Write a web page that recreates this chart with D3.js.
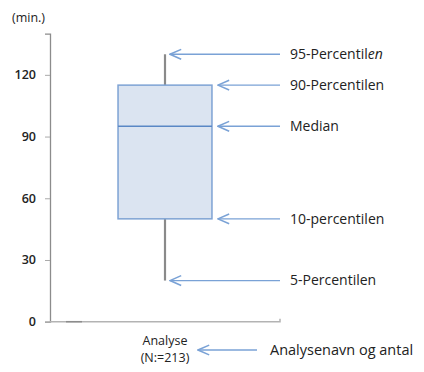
<!DOCTYPE html>
<html>
<head>
<meta charset="utf-8">
<script src="https://cdn.jsdelivr.net/npm/d3@7"></script>
<style>
  body { margin: 0; background: #fff; }
  text { font-family: "Open Sans", "Noto Sans", sans-serif; }
</style>
</head>
<body>
<div id="chart"></div>
<script>
// Data
const categories = ["Analyse"];
const categoryN = ["(N:=213)"];
const p5 = [20];
const p10 = [50];
const median = [95];
const p90 = [115];
const p95 = [130];
const yTicks = [0, 30, 60, 90, 120];

const annotLabels = ["95-Percentil", "90-Percentilen", "Median", "10-percentilen", "5-Percentilen"];
const annotValues = [p95[0], p90[0], median[0], p10[0], p5[0]];
const annotOnBox = [false, true, true, true, false];

const width = 424;
const height = 372;
const margin = { top: 35, right: 144, bottom: 50, left: 50 };

const svg = d3.select("#chart")
    .append("svg")
    .attr("width", width)
    .attr("height", height);

// open arrow head
const defs = svg.append("defs");
defs.append("marker")
    .attr("id", "head")
    .attr("viewBox", "0 0 10 10")
    .attr("refX", 9)
    .attr("refY", 5)
    .attr("markerWidth", 14)
    .attr("markerHeight", 14)
    .attr("markerUnits", "userSpaceOnUse")
    .attr("orient", "auto")
    .append("path")
    .attr("d", "M1,1.5 L9,5 L1,8.5")
    .attr("fill", "none")
    .attr("stroke", "#7aa2d6")
    .attr("stroke-width", 1.1);

const y = d3.scaleLinear()
    .domain([0, 140])
    .range([321.7, 33.7]);

const x = d3.scaleBand()
    .domain(categories)
    .range([margin.left, 280])
    .paddingInner(0.42)
    .paddingOuter(0.42);

// Y axis
const yAxis = d3.axisLeft(y)
    .tickValues(yTicks)
    .tickSize(5)
    .tickPadding(9);

const gy = svg.append("g")
    .attr("transform", `translate(${margin.left},0)`)
    .call(yAxis);
gy.select(".domain").attr("stroke", "#8c8c8c").attr("stroke-width", 1.3);
gy.selectAll(".tick line").attr("stroke", "#aaa");
gy.selectAll(".tick text")
    .attr("fill", "#222")
    .style("font-size", "12.5px")
    .style("font-weight", "600");

// baseline
svg.append("path")
    .attr("d", `M${margin.left},${y(0)} H280 V${y(0) - 3}`)
    .attr("fill", "none")
    .attr("stroke", "#b3b3b3")
    .attr("stroke-width", 1.5);
svg.append("line")
    .attr("x1", 66).attr("x2", 82)
    .attr("y1", y(0)).attr("y2", y(0))
    .attr("stroke", "#8c8c8c")
    .attr("stroke-width", 1.5);

// unit label
svg.append("text")
    .attr("x", 12)
    .attr("y", 22)
    .attr("fill", "#222")
    .style("font-size", "12.5px")
    .text("(min.)");

// Box plot
const boxes = svg.selectAll(".box")
    .data(categories)
    .enter()
    .append("g")
    .attr("class", "box");

boxes.append("line")
    .attr("x1", (d) => x(d) + x.bandwidth() / 2)
    .attr("x2", (d) => x(d) + x.bandwidth() / 2)
    .attr("y1", (d, i) => y(p95[i]))
    .attr("y2", (d, i) => y(p5[i]))
    .attr("stroke", "#8a8a8a")
    .attr("stroke-width", 2.2);

boxes.append("rect")
    .attr("x", (d) => x(d))
    .attr("width", x.bandwidth())
    .attr("y", (d, i) => y(p90[i]))
    .attr("height", (d, i) => y(p10[i]) - y(p90[i]))
    .attr("fill", "#dbe4f1")
    .attr("stroke", "#7ea3d4")
    .attr("stroke-width", 1.5);

boxes.append("line")
    .attr("x1", (d) => x(d))
    .attr("x2", (d) => x(d) + x.bandwidth())
    .attr("y1", (d, i) => y(median[i]))
    .attr("y2", (d, i) => y(median[i]))
    .attr("stroke", "#5a87c5")
    .attr("stroke-width", 1.5);

// category label
const catLabel = svg.selectAll(".cat")
    .data(categories)
    .enter()
    .append("text")
    .attr("class", "cat")
    .attr("text-anchor", "middle")
    .attr("fill", "#222")
    .style("font-size", "12.5px");
catLabel.append("tspan")
    .attr("x", (d) => x(d) + x.bandwidth() / 2)
    .attr("y", 345)
    .text((d) => d);
catLabel.append("tspan")
    .attr("x", (d) => x(d) + x.bandwidth() / 2)
    .attr("y", 362)
    .text((d, i) => categoryN[i]);

// Annotations
const cx = x(categories[0]) + x.bandwidth() / 2;
const boxRight = x(categories[0]) + x.bandwidth();

const annot = svg.selectAll(".annot")
    .data(annotLabels)
    .enter()
    .append("g")
    .attr("class", "annot");

annot.append("line")
    .attr("x1", 280)
    .attr("x2", (d, i) => annotOnBox[i] ? boxRight + 6 : cx + 5)
    .attr("y1", (d, i) => y(annotValues[i]))
    .attr("y2", (d, i) => y(annotValues[i]))
    .attr("stroke", "#7aa2d6")
    .attr("stroke-width", 1.3)
    .attr("marker-end", "url(#head)");

const annotText = annot.append("text")
    .attr("x", 290)
    .attr("y", (d, i) => y(annotValues[i]))
    .attr("dy", "0.35em")
    .attr("fill", "#222")
    .style("font-size", "14px")
    .text((d) => d);
annotText.filter((d, i) => i === 0)
    .append("tspan")
    .style("font-style", "italic")
    .text("en");

// Category annotation
svg.append("line")
    .attr("x1", 257)
    .attr("x2", 198)
    .attr("y1", 350)
    .attr("y2", 350)
    .attr("stroke", "#7aa2d6")
    .attr("stroke-width", 1.3)
    .attr("marker-end", "url(#head)");

svg.append("text")
    .attr("x", 270)
    .attr("y", 350)
    .attr("dy", "0.35em")
    .attr("fill", "#222")
    .style("font-size", "14.5px")
    .text("Analysenavn og antal");
</script>
</body>
</html>
